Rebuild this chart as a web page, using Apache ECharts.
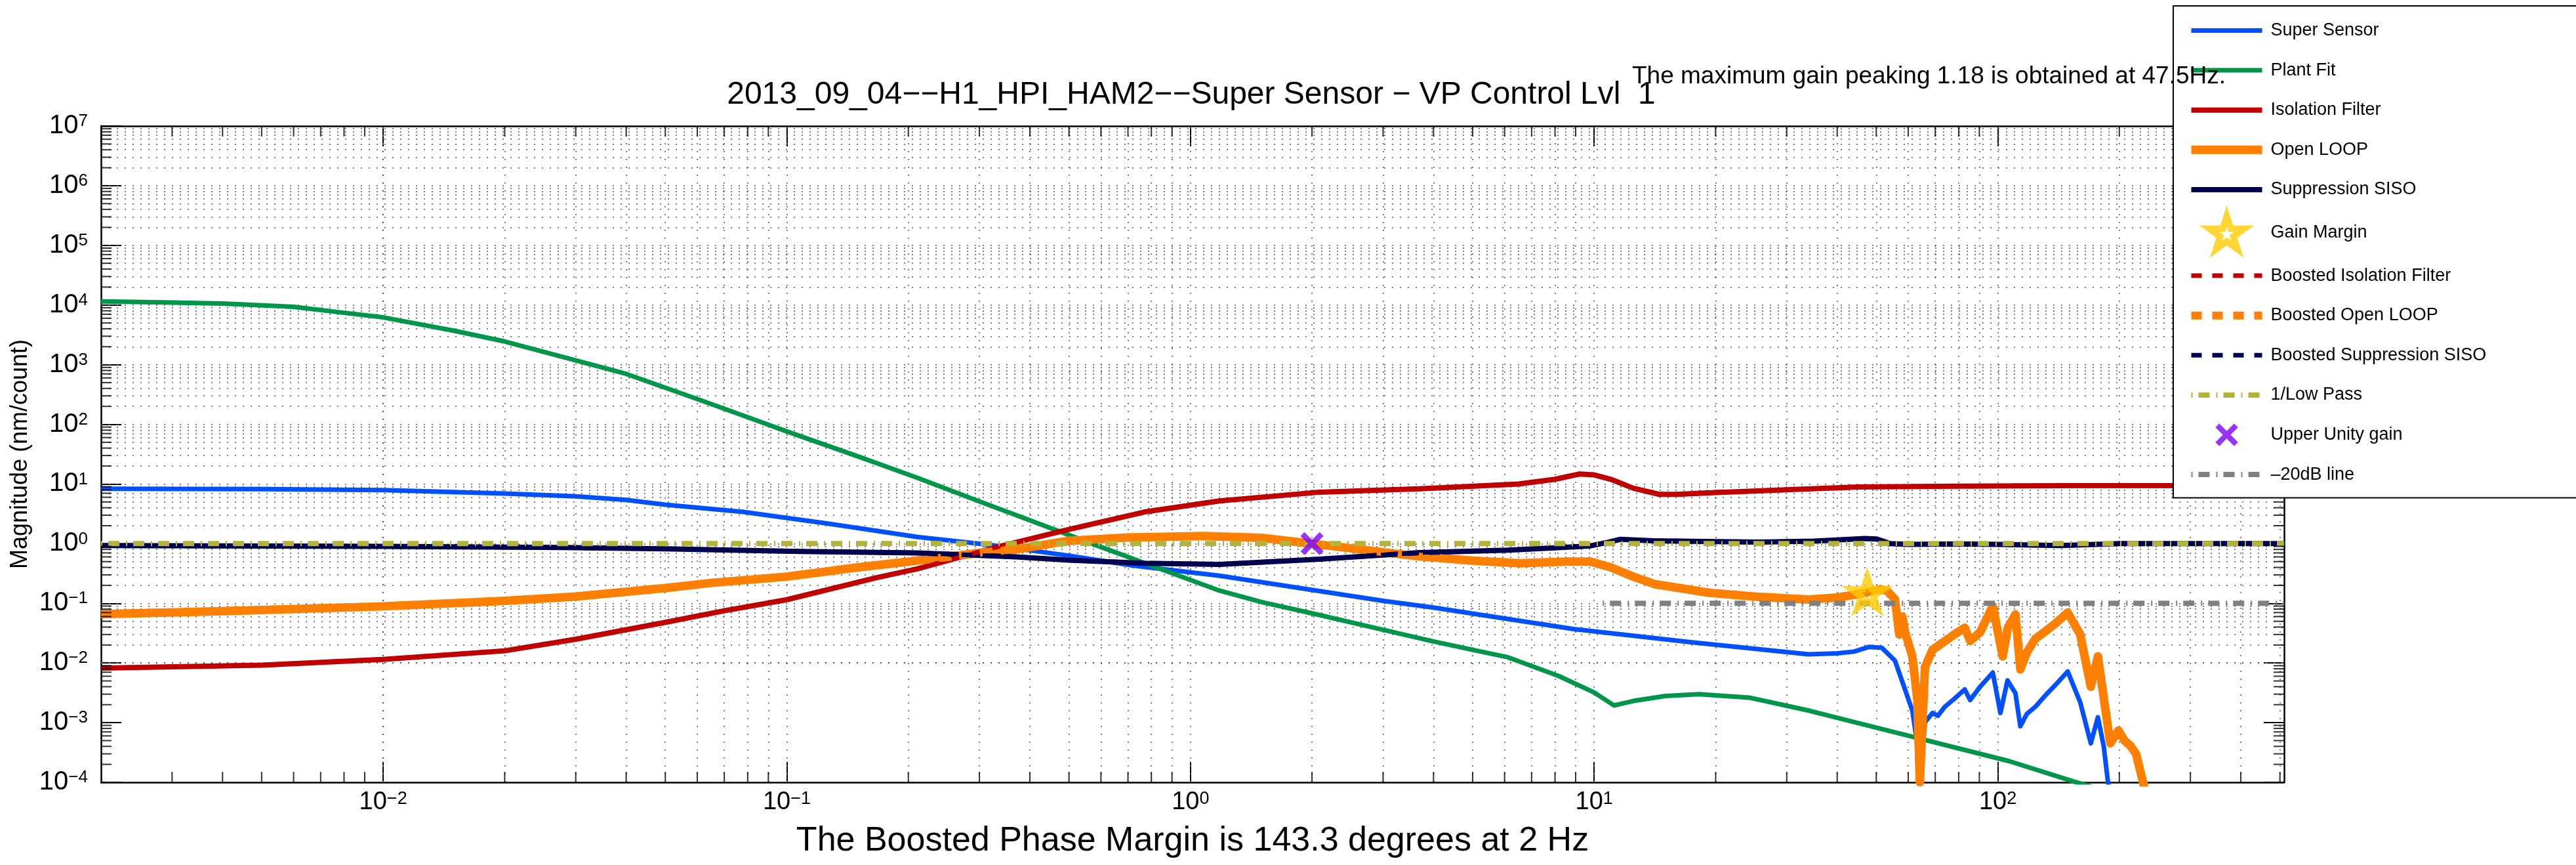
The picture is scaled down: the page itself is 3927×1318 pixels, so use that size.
<!DOCTYPE html>
<html>
<head>
<meta charset="utf-8">
<script src="https://cdn.jsdelivr.net/npm/echarts/dist/echarts.min.js"></script>
<style>
html,body{margin:0;padding:0;background:#fff;}
#chart{width:3927px;height:1318px;}
</style>
</head>
<body>
<div id="chart"></div>
<script>
const FONT = '"Liberation Sans", Arial, Helvetica, sans-serif';

// ---------------- data (frequency in Hz, magnitude in nm/count) ----------------
const superSensorFreq = [0.002, 0.005, 0.01, 0.02, 0.03, 0.04, 0.05, 0.078, 0.128, 0.211, 0.316, 0.5, 0.72, 1.18, 1.97, 3, 4, 6.13, 8.9, 17.2, 34, 40, 44, 48, 51.6, 55.6, 58.9, 61.4, 63, 64.1, 66, 68.9, 71, 74, 78, 82.8, 85.4, 90.4, 97.2, 101.5, 105.7, 110.6, 113.7, 118, 124, 132, 139, 149, 160, 170, 177, 183, 187.5, 192];
const superSensorMag = [8.3, 8.2, 7.9, 6.9, 6.2, 5.4, 4.5, 3.4, 2.14, 1.29, 0.96, 0.63, 0.43, 0.29, 0.17, 0.11, 0.085, 0.0545, 0.037, 0.0224, 0.014, 0.0145, 0.0155, 0.0186, 0.018, 0.011, 0.0036, 0.0016, 0.0005, 0.0001, 0.00102, 0.00145, 0.0013, 0.00186, 0.0025, 0.0036, 0.0024, 0.004, 0.0069, 0.00145, 0.0051, 0.0031, 0.00087, 0.0014, 0.00186, 0.003, 0.0043, 0.0072, 0.0022, 0.00045, 0.00123, 0.0004, 0.0001, 0.00005];

const plantFitFreq = [0.002, 0.003, 0.004, 0.006, 0.008, 0.01, 0.015, 0.02, 0.03, 0.04, 0.06, 0.078, 0.1, 0.15, 0.211, 0.3, 0.4, 0.57, 0.8, 1.18, 1.5, 2, 3, 4, 5, 6.13, 8.17, 10, 11.2, 12.5, 15, 18.2, 24.2, 34.2, 60.6, 107, 153, 175];
const plantFitMag = [11500, 11000, 10600, 9300, 7400, 6200, 3700, 2450, 1180, 700, 265, 140, 76, 29, 12.6, 5.1, 2.46, 1.0, 0.43, 0.163, 0.105, 0.068, 0.036, 0.023, 0.0166, 0.0124, 0.00605, 0.0032, 0.00194, 0.00231, 0.0028, 0.0030, 0.00263, 0.00158, 0.000594, 0.000225, 0.000105, 0.00008];

const isolationFreq = [0.002, 0.005, 0.01, 0.02, 0.03, 0.05, 0.07, 0.1, 0.167, 0.211, 0.325, 0.5, 0.77, 1.18, 2.09, 3.7, 6.5, 8, 9.2, 10, 11, 12.5, 14.5, 16, 20, 30, 45, 80, 150, 512];
const isolationMag = [0.0082, 0.0092, 0.0115, 0.016, 0.025, 0.048, 0.075, 0.115, 0.27, 0.38, 0.85, 1.73, 3.4, 5.2, 7.3, 8.3, 10, 12, 14.7, 14.2, 12, 8.5, 6.7, 6.7, 7.2, 8.0, 8.9, 9.2, 9.4, 9.4];

const openLoopFreq = [0.002, 0.004, 0.01, 0.02, 0.03, 0.05, 0.065, 0.1, 0.15, 0.2, 0.3, 0.37, 0.5, 0.7, 1.08, 1.5, 2, 3, 3.7, 5, 6.56, 8.5, 9.8, 11, 12.5, 14.1, 19.3, 25, 34, 40, 45.5, 50.9, 53, 55.6, 57, 58, 58.9, 61.4, 63.2, 64.1, 66, 68.9, 74, 78, 82.8, 85.4, 90.4, 97.2, 102.8, 106, 110.6, 113.7, 118, 124, 132, 139, 149, 160, 170, 177, 184, 190, 199, 206, 213, 220, 229, 235];
const openLoopMag = [0.066, 0.074, 0.089, 0.11, 0.13, 0.18, 0.22, 0.28, 0.4, 0.5, 0.7, 0.8, 1.12, 1.27, 1.34, 1.25, 1.0, 0.72, 0.61, 0.52, 0.47, 0.5, 0.5, 0.4, 0.28, 0.21, 0.15, 0.13, 0.116, 0.125, 0.144, 0.171, 0.165, 0.117, 0.03, 0.06, 0.033, 0.013, 0.0024, 0.0001, 0.0085, 0.0166, 0.0234, 0.03, 0.039, 0.0234, 0.0327, 0.09, 0.0129, 0.04, 0.065, 0.0078, 0.015, 0.0257, 0.035, 0.046, 0.07, 0.03, 0.004, 0.0129, 0.002, 0.00045, 0.00074, 0.0005, 0.00041, 0.0003, 0.0001, 0.00005];

const suppressionFreq = [0.002, 0.01, 0.028, 0.05, 0.108, 0.211, 0.37, 0.5, 0.77, 1.18, 2.09, 3.7, 6.13, 8.75, 9.8, 10.8, 11.6, 14, 20, 25.7, 35, 40, 46.8, 50, 52, 54, 60, 80, 100, 143, 200, 300, 512];
const suppressionMag = [0.93, 0.9, 0.86, 0.82, 0.74, 0.7, 0.6, 0.53, 0.47, 0.45, 0.55, 0.71, 0.78, 0.88, 0.92, 1.05, 1.18, 1.12, 1.08, 1.06, 1.1, 1.15, 1.22, 1.2, 1.1, 1.0, 0.97, 0.99, 0.97, 0.93, 1.0, 1.0, 1.0];

const lowPassFreq = [0.002, 512];
const lowPassMag = [1, 1];

const minus20dBFreq = [10.5, 512];
const minus20dBMag = [0.1, 0.1];

const gainMarginFreq = [47.5];
const gainMarginMag = [0.15];

const unityGainFreq = [2];
const unityGainMag = [1];

// ---------------- axes ----------------
const X_MIN = 0.002, X_MAX = 512;
const Y_MIN = 1e-4, Y_MAX = 1e7;
const xDecades = [0.001, 0.01, 0.1, 1, 10, 100];
const yDecades = [1e-4, 1e-3, 1e-2, 1e-1, 1, 10, 100, 1e3, 1e4, 1e5, 1e6];
const mantissas = [1, 2, 3, 4, 5, 6, 7, 8, 9];

// ---------------- text ----------------
const titleText = '2013_09_04\u2212\u2212H1_HPI_HAM2\u2212\u2212Super Sensor \u2212 VP Control Lvl  1';
const noteText = 'The maximum gain peaking 1.18 is obtained at 47.5Hz.';
const xName = 'The Boosted Phase Margin is 143.3 degrees at 2 Hz';
const yName = 'Magnitude (nm/count)';
const legendNames = ['Super Sensor', 'Plant Fit', 'Isolation Filter', 'Open LOOP', 'Suppression SISO', 'Gain Margin', 'Boosted Isolation Filter', 'Boosted Open LOOP', 'Boosted Suppression SISO', '1/Low Pass', 'Upper Unity gain', '\u201320dB line'];

// ---------------- helpers ----------------
const pairs = (f, v) => f.map((x, i) => [x, v[i]]);
const gridValues = (decades, lo, hi) => {
  const out = [];
  decades.forEach(d => mantissas.forEach(m => {
    const v = +(m * d).toPrecision(6);
    if (v > lo * 1.0001 && v < hi * 0.9999) out.push(v);
  }));
  return out;
};
const xGrid = gridValues(xDecades, X_MIN, X_MAX);
const yGrid = gridValues(yDecades, Y_MIN, Y_MAX);
const isDecade = v => Math.abs(Math.log10(v) - Math.round(Math.log10(v))) < 1e-6;
const xMinor = xGrid.filter(v => !isDecade(v));
const yMinor = yGrid.filter(v => !isDecade(v));

const supText = e => (e < 0 ? '\u2212' + (-e) : '' + e);
const powLabel = v => '{b|10}{s|' + supText(Math.round(Math.log10(v))) + '}';

const STAR = 'path://M-5 -8M105 98.45M50 0L61.23 34.55L97.55 34.55L68.17 55.9L79.39 90.45L50 69.1L20.61 90.45L31.83 55.9L2.45 34.55L38.77 34.55Z';
const CROSS = 'path://M-35.7 -35.7M135.7 135.7M0 17L17 0L50 33L83 0L100 17L67 50L100 83L83 100L50 67L17 100L0 83L33 50Z';

const C = {
  blue: '#0050FF', green: '#00964A', red: '#C00000', orange: '#FF8000',
  navy: '#000050', olive: '#B3B338', gray: '#808080', gold: '#FFCC00', purple: '#8000FF'
};
const DASH = [16, 16];
const DASHDOT = [2, 9, 17, 10];

function lineSeries(name, data, color, width, type, z) {
  return {
    type: 'line', name, data, symbol: 'none', showSymbol: false, silent: true,
    animation: false, clip: true, z: z || 2,
    lineStyle: { color, width, type: type || 'solid', cap: 'butt', join: 'round' },
    itemStyle: { color }
  };
}

const gridLineStyle = { color: '#555', width: 1.5, type: [2, 10] };

const series = [
  {
    type: 'line', name: '_grid', data: [], silent: true, animation: false, symbol: 'none',
    markLine: {
      silent: true, symbol: 'none', animation: false, z: 1,
      label: { show: false },
      lineStyle: gridLineStyle,
      data: xGrid.map(v => ({ xAxis: v })).concat(yGrid.map(v => ({ yAxis: v })))
    }
  },
  { type: 'scatter', name: '_tb', silent: true, animation: false, clip: false, z: 3, symbol: 'rect', symbolSize: [2, 16], symbolOffset: [0, -8], itemStyle: { color: '#000' }, data: xMinor.map(v => [v, Y_MIN]) },
  { type: 'scatter', name: '_tt', silent: true, animation: false, clip: false, z: 3, symbol: 'rect', symbolSize: [2, 16], symbolOffset: [0, 8], itemStyle: { color: '#000' }, data: xMinor.map(v => [v, Y_MAX]) },
  { type: 'scatter', name: '_tl', silent: true, animation: false, clip: false, z: 3, symbol: 'rect', symbolSize: [16, 2], symbolOffset: [8, 0], itemStyle: { color: '#000' }, data: yMinor.map(v => [X_MIN, v]) },
  { type: 'scatter', name: '_tr', silent: true, animation: false, clip: false, z: 3, symbol: 'rect', symbolSize: [16, 2], symbolOffset: [-8, 0], itemStyle: { color: '#000' }, data: yMinor.map(v => [X_MAX, v]) },

  lineSeries('Super Sensor', pairs(superSensorFreq, superSensorMag), C.blue, 7),
  lineSeries('Plant Fit', pairs(plantFitFreq, plantFitMag), C.green, 7),
  lineSeries('Isolation Filter', pairs(isolationFreq, isolationMag), C.red, 8),
  lineSeries('Open LOOP', pairs(openLoopFreq, openLoopMag), C.orange, 13),
  lineSeries('Suppression SISO', pairs(suppressionFreq, suppressionMag), C.navy, 8),
  {
    type: 'scatter', name: 'Gain Margin', data: pairs(gainMarginFreq, gainMarginMag), silent: true, animation: false,
    symbol: STAR, symbolSize: 56, symbolKeepAspect: true, z: 6,
    itemStyle: { color: 'rgba(0,0,0,0)', borderColor: C.gold, borderWidth: 10 }
  },
  lineSeries('Boosted Isolation Filter', pairs(isolationFreq, isolationMag), C.red, 7, DASH),
  lineSeries('Boosted Open LOOP', pairs(openLoopFreq, openLoopMag), C.orange, 12, DASH),
  lineSeries('Boosted Suppression SISO', pairs(suppressionFreq, suppressionMag), C.navy, 7, DASH),
  lineSeries('1/Low Pass', pairs(lowPassFreq, lowPassMag), C.olive, 8, DASHDOT),
  {
    type: 'scatter', name: 'Upper Unity gain', data: pairs(unityGainFreq, unityGainMag), silent: true, animation: false,
    symbol: CROSS, symbolSize: 60, symbolKeepAspect: true, z: 6,
    itemStyle: { color: C.purple }
  },
  lineSeries('\u201320dB line', pairs(minus20dBFreq, minus20dBMag), C.gray, 8, DASHDOT)
];

const legendLine = {
  'Super Sensor': [C.blue, 7, 'solid'],
  'Plant Fit': [C.green, 7, 'solid'],
  'Isolation Filter': [C.red, 8, 'solid'],
  'Open LOOP': [C.orange, 13, 'solid'],
  'Suppression SISO': [C.navy, 8, 'solid'],
  'Boosted Isolation Filter': [C.red, 7, DASH],
  'Boosted Open LOOP': [C.orange, 12, DASH],
  'Boosted Suppression SISO': [C.navy, 7, DASH],
  '1/Low Pass': [C.olive, 8, DASHDOT],
  '\u201320dB line': [C.gray, 8, DASHDOT]
};
const hiddenSymbol = { opacity: 0, color: 'rgba(0,0,0,0)', borderWidth: 0 };
const legendData = legendNames.map(n => {
  if (n === 'Gain Margin') return { name: n, itemStyle: { color: 'rgba(0,0,0,0)', borderColor: C.gold, borderWidth: 10 } };
  if (n === 'Upper Unity gain') return { name: n, itemStyle: { color: C.purple, borderWidth: 0 } };
  const s = legendLine[n];
  return { name: n, itemStyle: hiddenSymbol, lineStyle: { color: s[0], width: s[1], type: s[2], cap: 'butt', opacity: 1 } };
});

const xRich = {
  b: { fontSize: 38, fontFamily: FONT, color: '#000', lineHeight: 38, padding: [11, 0, 0, 0], verticalAlign: 'bottom' },
  s: { fontSize: 27, fontFamily: FONT, color: '#000', lineHeight: 27, verticalAlign: 'top' }
};
const yRich = {
  b: { fontSize: 40, fontFamily: FONT, color: '#000', lineHeight: 40, padding: [10, 0, 10, 0], verticalAlign: 'middle' },
  s: { fontSize: 26, fontFamily: FONT, color: '#000', lineHeight: 26, verticalAlign: 'top' }
};

const boxLine = { show: true, onZero: false, lineStyle: { color: '#000', width: 2.5 } };
const majorTick = { show: true, inside: true, length: 31, lineStyle: { color: '#000', width: 2 } };

const option = {
  backgroundColor: '#fff',
  animation: false,
  textStyle: { fontFamily: FONT },
  title: {
    text: titleText, left: 1816, top: 121, textAlign: 'center', padding: 0,
    textStyle: { fontSize: 48, fontWeight: 'normal', color: '#000', fontFamily: FONT }
  },
  grid: { left: 154, top: 192, width: 3328, height: 1000, containLabel: false },
  xAxis: [
    {
      type: 'log', logBase: 10, min: X_MIN, max: X_MAX, position: 'bottom',
      axisLine: boxLine, axisTick: majorTick, splitLine: { show: false }, minorTick: { show: false },
      axisLabel: { show: true, showMinLabel: false, showMaxLabel: false, margin: 12, formatter: powLabel, rich: xRich },
      name: xName, nameLocation: 'middle', nameGap: 64,
      nameTextStyle: { fontSize: 52, color: '#000', fontFamily: FONT }
    },
    {
      type: 'log', logBase: 10, min: X_MIN, max: X_MAX, position: 'top',
      axisLine: boxLine, axisTick: majorTick, splitLine: { show: false }, axisLabel: { show: false }
    }
  ],
  yAxis: [
    {
      type: 'log', logBase: 10, min: Y_MIN, max: Y_MAX, interval: 1, position: 'left',
      axisLine: boxLine, axisTick: majorTick, splitLine: { show: false }, minorTick: { show: false },
      axisLabel: { show: true, margin: 20, formatter: powLabel, rich: yRich },
      name: yName, nameLocation: 'middle', nameGap: 68, nameRotate: 90,
      nameTextStyle: { fontSize: 36, color: '#000', fontFamily: FONT }
    },
    {
      type: 'log', logBase: 10, min: Y_MIN, max: Y_MAX, interval: 1, position: 'right',
      axisLine: boxLine, axisTick: majorTick, splitLine: { show: false }, axisLabel: { show: false }
    }
  ],
  legend: {
    orient: 'vertical', left: 3313, top: 9, itemWidth: 108, itemHeight: 59, itemGap: 1.6,
    padding: [8, 200, 6, 21], backgroundColor: '#fff', borderColor: '#000', borderWidth: 2,
    selectedMode: false, z: 10,
    textStyle: { fontSize: 27, lineHeight: 59, color: '#000', fontFamily: FONT, padding: [0, 0, 0, 8] },
    data: legendData
  },
  graphic: [
    {
      type: 'text', left: 2488, top: 98, z: 100, silent: true,
      style: { text: noteText, fontSize: 37, fontFamily: FONT, fill: '#000' }
    }
  ],
  series
};

const chart = echarts.init(document.getElementById('chart'), null, { renderer: 'canvas', width: 3927, height: 1318 });
chart.setOption(option);
</script>
</body>
</html>
